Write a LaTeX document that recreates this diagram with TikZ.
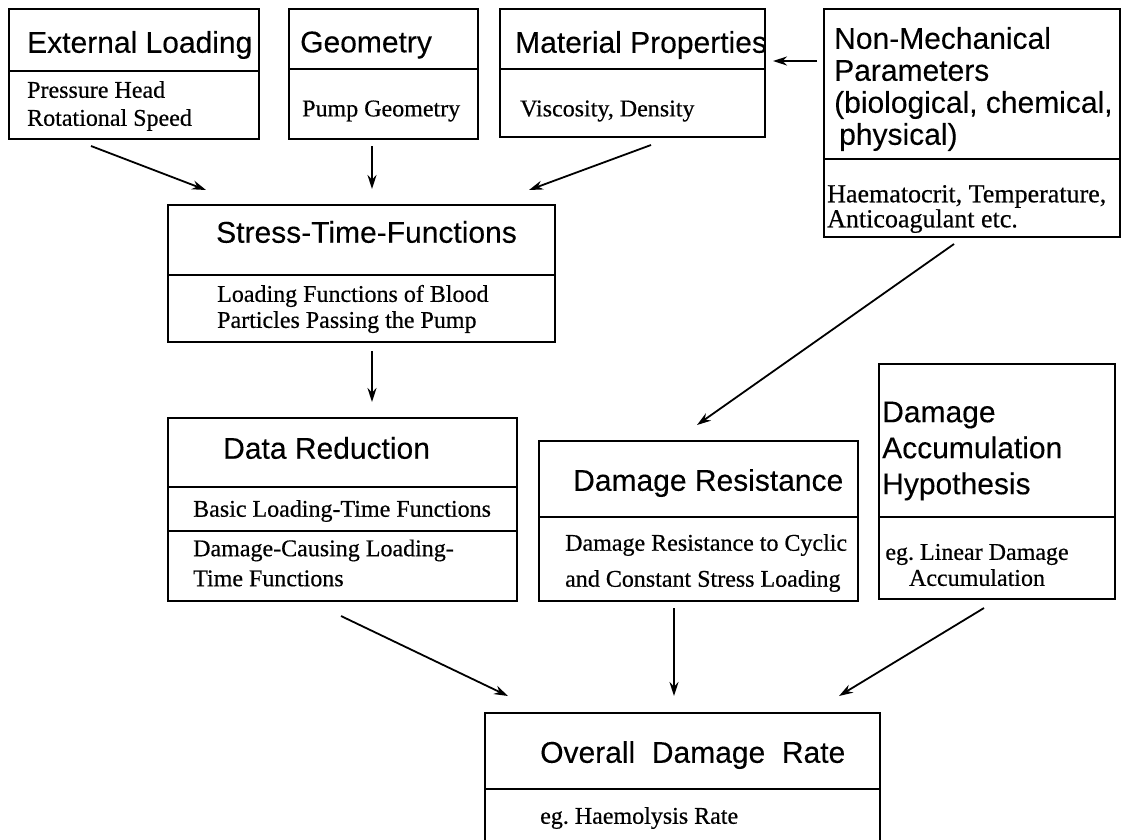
\documentclass[tikz,border=0pt]{standalone}
\usepackage{fontspec}
\setmainfont[FakeBold=0.5]{Liberation Serif}
\setsansfont[FakeBold=0.2]{Liberation Sans}
\usetikzlibrary{positioning}
\usetikzlibrary{calc}
\usetikzlibrary{arrows.meta}
\tikzset{>={Stealth[length=14pt,width=9pt]}}
\tikzset{box/.style={draw, rectangle, line width=2pt, inner sep=0pt}}
\tikzset{divider/.style={line width=2pt}}
\tikzset{flow/.style={->, line width=1.8pt}}
\tikzset{head/.style={anchor=west, inner sep=0pt, align=left, font=\sffamily\fontsize{30}{32}\selectfont}}
\tikzset{body/.style={anchor=west, inner sep=0pt, align=left, font=\fontsize{24}{28}\selectfont}}

\begin{document}
\begin{tikzpicture}[x=1pt, y=-1pt]
\useasboundingbox (0,0) rectangle (1121,839);

% the boxes
\node[box, minimum width=250pt, minimum height=130pt] (ext) at (134,74) {};
\node[box, minimum width=189pt, minimum height=130pt] (geom) at (383.5,74) {};
\node[box, minimum width=265pt, minimum height=128pt] (mat) at (632.5,73) {};
\node[box, minimum width=296pt, minimum height=228pt] (nonmech) at (972,123) {};
\node[box, minimum width=387pt, minimum height=137pt] (stf) at (361.5,273.5) {};
\node[box, minimum width=349pt, minimum height=183pt] (dr) at (342.5,509.5) {};
\node[box, minimum width=319pt, minimum height=160pt] (drs) at (698.5,521) {};
\node[box, minimum width=236pt, minimum height=235pt] (dah) at (997,481.5) {};
\node[box, minimum width=395pt, minimum height=147pt] (odr) at (682.5,786.5) {};

\draw[divider] (ext.west |- 0,71) -- (ext.east |- 0,71);
\draw[divider] (geom.west |- 0,69) -- (geom.east |- 0,69);
\draw[divider] (mat.west |- 0,69) -- (mat.east |- 0,69);
\draw[divider] (nonmech.west |- 0,159) -- (nonmech.east |- 0,159);
\draw[divider] (stf.west |- 0,275) -- (stf.east |- 0,275);
\draw[divider] (dr.west |- 0,487) -- (dr.east |- 0,487);
\draw[divider] (dr.west |- 0,531) -- (dr.east |- 0,531);
\draw[divider] (drs.west |- 0,517) -- (drs.east |- 0,517);
\draw[divider] (dah.west |- 0,517) -- (dah.east |- 0,517);
\draw[divider] (odr.west |- 0,789) -- (odr.east |- 0,789);

% texts
\node[head] (ext-h) at (27,45) {External Loading};
\node[body] (ext-b) at (27,106) {Pressure Head\\Rotational Speed};
\node[head] (geom-h) at (300,45) {Geometry};
\node[body] (geom-b) at (302,111) {Pump Geometry};
\node[head] (mat-h) at (515,45) {Material Properties};
\node[body] (mat-b) at (520,111) {Viscosity, Density};
\node[head] (nonmech-h) at (834,89) {Non-Mechanical\\Parameters\\(biological, chemical,\\\hspace{5pt}physical)};
\node[body, font=\fontsize{26}{25}\selectfont] (nonmech-b) at (827,209) {Haematocrit, Temperature,\\Anticoagulant etc.};
\node[head] (stf-h) at (216,232) {Stress-Time-Functions};
\node[body, font=\fontsize{24}{26}\selectfont] (stf-b) at (217,309) {Loading Functions of Blood\\Particles Passing the Pump};
\node[head] (dr-h) at (223,448) {Data Reduction};
\node[body] (dr-b1) at (193,511) {Basic Loading-Time Functions};
\node[body, font=\fontsize{24}{30}\selectfont] (dr-b2) at (193,563) {Damage-Causing Loading-\\Time Functions};
\node[head] (drs-h) at (573,483) {Damage Resistance};
\node[body, font=\fontsize{24}{36}\selectfont] (drs-b) at (565,563) {Damage Resistance to Cyclic\\and Constant Stress Loading};
\node[head, font=\sffamily\fontsize{30}{36}\selectfont] (dah-h) at (882,451) {Damage\\Accumulation\\Hypothesis};
\node[body, anchor=center, align=center, font=\fontsize{24}{26}\selectfont] (dah-b) at (977,565) {eg.\ Linear Damage\\Accumulation};
\node[head] (odr-h) at (540,755) {Overall\ \ Damage\ \ Rate};
\node[body] (odr-b) at (540,818) {eg.\ Haemolysis Rate};

% arrows
\draw[flow] ($(ext.south west)+(83,6)$) -- ($(stf.north west)+(39,-14)$);
\draw[flow] ($(geom.south west)+(84,6)$) -- ($(stf.north west)+(205,-15)$);
\draw[flow] ($(mat.south west)+(152,7)$) -- ($(stf.north west)+(362,-14)$);
\draw[flow] ($(nonmech.north west)+(-6,53)$) -- ($(mat.north east)+(7,53)$);
\draw[flow] ($(nonmech.south west)+(131,6)$) -- ($(drs.north west)+(159,-15)$);
\draw[flow] ($(stf.south west)+(205,8)$) -- ($(dr.north west)+(205,-15)$);
\draw[flow] ($(dr.south west)+(174,14)$) -- ($(odr.north west)+(24,-16)$);
\draw[flow] ($(drs.south west)+(136,6)$) -- ($(odr.north west)+(190,-16)$);
\draw[flow] ($(dah.south west)+(106,8)$) -- ($(odr.north west)+(355,-16)$);
\end{tikzpicture}
\end{document}
